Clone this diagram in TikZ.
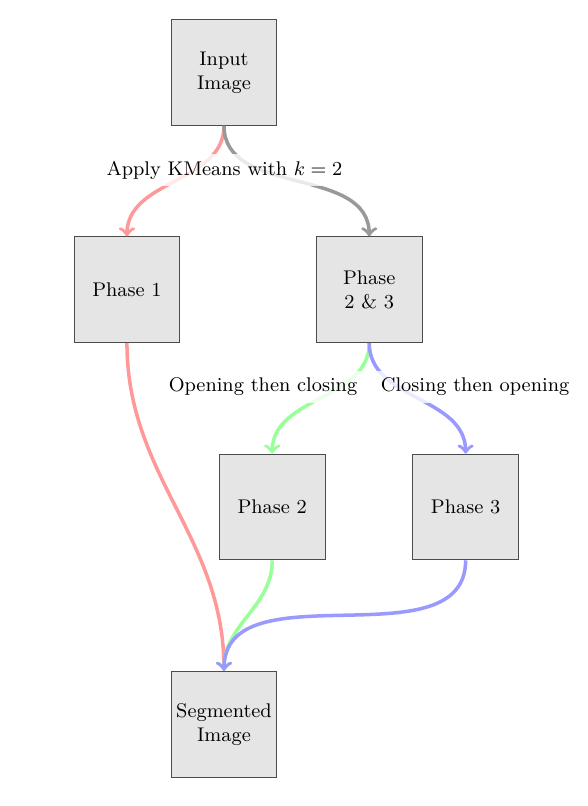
\documentclass[tikz,border=0pt]{standalone}
\usetikzlibrary{positioning}

\begin{document}
\begin{tikzpicture}[
            > = to, % arrow head style
            auto,
            on grid,
            node distance = 3.47cm, % distance between rows
            ultra thick, % line style
            font = \fontsize{9}{10.8}\selectfont
        ]

        \tikzstyle{phase}=[
            draw = black!70,
            thin,
            fill = black!10,
            align = center,
            inner sep = 2pt,
            minimum size = 1.69cm
        ]
        \tikzstyle{tag}=[
            fill = white,
            fill opacity = 0.8,
            text opacity = 1
        ]

        \useasboundingbox (0,0) rectangle (9.377,12.875);

        \node[phase] (input) at (3.578,11.717) {Input\\Image};
        \node[phase] (p1) [below left=3.47cm and 1.55cm of input] {Phase 1};
        \node[phase] (p23) [below right=3.47cm and 2.32cm of input] {Phase\\2 \& 3};
        \node[phase] (p2) [below left=3.47cm and 1.55cm of p23] {Phase 2};
        \node[phase] (p3) [below right=3.47cm and 1.54cm of p23] {Phase 3};
        \node[phase] (seg) [below=10.41cm of input] {Segmented\\Image};

        \draw[->, red!40] (input.south) to[out=-90, in=90] (p1.north);
        \draw[->, black!40] (input.south) to[out=-90, in=90] (p23.north);
        \draw[->, green!40] (p23.south) to[out=-90, in=90] (p2.north);
        \draw[->, blue!40] (p23.south) to[out=-90, in=90] (p3.north);

        \draw[->, red!40] (p1.south) to[out=-90, in=90] (seg.north);
        \draw[->, green!40] (p2.south) to[out=-90, in=90] (seg.north);
        \draw[->, blue!40] (p3.south) to[out=-90, in=90] (seg.north);

        % labels over the edges
        \node[tag] (kmeans) at (3.586,10.159) {Apply KMeans with $k = 2$};
        \node[tag] (openclose) at (4.201,6.693) {Opening then closing};
        \node[tag] (closeopen) at (7.588,6.693) {Closing then opening};

    \end{tikzpicture}
\end{document}
